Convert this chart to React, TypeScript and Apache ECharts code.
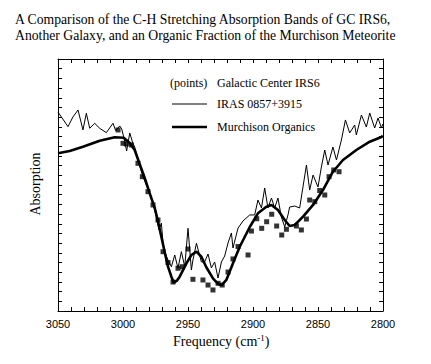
import React, { useEffect, useRef } from 'react';
import * as echarts from 'echarts';

const xTickLabels = [3050, 3000, 2950, 2900, 2850, 2800];

// IRAS 0857+3915 (thin line)
const irasFreq = [
  3050.0, 3047.4, 3042.3, 3038.5, 3034.6, 3030.8, 3028.2, 3025.6, 3021.8, 3017.9,
  3012.8, 3007.7, 3005.6, 3002.5, 3001.0, 2998.7, 2997.2, 2994.8, 2992.5, 2991.0,
  2988.5, 2984.6, 2979.5, 2975.6, 2972.3, 2970.5, 2969.2, 2967.9, 2965.4, 2962.8,
  2960.2, 2957.7, 2955.1, 2952.5, 2950.0, 2947.4, 2946.2, 2943.5, 2939.7, 2937.2,
  2934.6, 2932.0, 2929.5, 2926.9, 2924.3, 2921.8, 2919.2, 2916.6, 2915.4, 2911.5,
  2907.7, 2902.5, 2898.7, 2896.2, 2893.5, 2891.0, 2888.5, 2885.8, 2883.3, 2880.8,
  2878.2, 2875.6, 2873.1, 2871.8, 2867.9, 2864.1, 2858.9, 2856.4, 2853.8, 2850.0,
  2847.4, 2844.8, 2842.3, 2838.5, 2835.8, 2832.0, 2828.9, 2825.6, 2821.8, 2820.5,
  2816.6, 2812.8, 2810.2, 2806.4, 2803.8, 2801.2, 2800.2,
];
const irasAbs = [
  20.53, 20.02, 19.02, 20.02, 20.74, 18.68, 20.40, 18.85, 19.37, 18.85,
  18.40, 19.37, 18.60, 19.09, 18.78, 17.54, 16.51, 18.37, 17.33, 16.92,
  15.58, 13.86, 12.17, 10.42, 8.36, 9.08, 7.02, 6.12, 5.26, 4.57,
  5.78, 4.41, 6.12, 4.57, 8.53, 4.23, 5.26, 6.99, 5.06, 5.06,
  5.88, 4.44, 5.06, 3.40, 5.06, 5.67, 7.02, 8.05, 6.50, 8.56,
  9.29, 9.91, 9.91, 11.45, 10.63, 12.69, 10.63, 11.66, 10.63, 11.66,
  9.70, 8.67, 9.91, 10.73, 10.83, 10.63, 15.06, 12.48, 14.03, 12.79,
  14.86, 16.61, 15.06, 16.92, 15.58, 17.64, 19.71, 18.37, 19.19, 18.16,
  20.22, 18.98, 20.43, 18.88, 19.91, 18.88, 19.29,
];

// Murchison Organics (thick line)
const murchFreq = [
  3050.0, 3041.0, 3030.8, 3017.9, 3006.4, 2999.5, 2994.8, 2991.0, 2987.2, 2983.3,
  2979.5, 2975.6, 2973.3, 2970.5, 2968.0, 2965.4, 2962.8, 2961.0, 2958.7, 2956.4,
  2951.2, 2947.4, 2943.5, 2939.7, 2935.8, 2930.8, 2926.9, 2924.1, 2920.5, 2915.4,
  2910.2, 2902.5, 2896.2, 2889.7, 2885.8, 2880.8, 2875.6, 2871.8, 2867.9, 2861.5,
  2853.8, 2846.2, 2838.5, 2830.8, 2820.5, 2810.2, 2801.2, 2800.2,
];
const murchAbs = [
  16.27, 16.51, 16.95, 17.57, 17.92, 17.88, 17.33, 16.61, 15.17, 13.72,
  12.17, 10.63, 9.39, 7.67, 6.12, 4.57, 3.54, 2.94, 3.10, 3.54,
  4.92, 5.78, 6.12, 5.60, 4.49, 3.37, 2.79, 2.68, 3.20, 4.92,
  6.63, 8.67, 10.08, 10.76, 10.94, 10.42, 9.39, 8.77, 8.87, 9.73,
  10.94, 12.48, 14.37, 15.58, 16.61, 17.47, 17.95, 18.10,
];

// Galactic Center IRS6 (points)
const irs6Freq = [
  3003.8, 3000.0, 2997.4, 2993.5, 2988.5, 2985.1, 2980.8, 2976.9, 2973.1, 2969.2,
  2965.4, 2961.5, 2957.7, 2954.5, 2950.0, 2946.2, 2938.5, 2934.6, 2930.8, 2926.9,
  2923.7, 2919.2, 2915.4, 2911.5, 2903.8, 2901.2, 2897.1, 2893.3, 2889.5, 2885.6,
  2881.8, 2877.9, 2874.3, 2866.6, 2862.8, 2858.9, 2856.4, 2852.5, 2848.7, 2844.8,
  2841.5, 2837.9, 2833.8,
];
const irs6Abs = [
  18.68, 17.30, 17.23, 17.13, 15.24, 13.86, 12.31, 10.94, 9.39, 6.12,
  5.00, 2.99, 4.41, 4.57, 6.40, 3.27, 3.20, 2.68, 2.17, 2.86,
  2.68, 4.02, 5.37, 6.65, 5.78, 8.25, 9.52, 8.53, 9.21, 9.98,
  8.77, 7.84, 8.43, 8.77, 8.36, 9.49, 11.45, 11.28, 12.43, 11.97,
  13.86, 14.55, 14.37,
];

const zip = (a: number[], b: number[]) => a.map((v, i) => [v, b[i]]);

export default function App() {
  const ref = useRef<HTMLDivElement>(null);
  useEffect(() => {
    const chart = echarts.init(ref.current!, null, { renderer: 'svg' });
    const serif = "'Liberation Serif', 'DejaVu Serif', serif";
    const sans = "'Liberation Sans', Arial, sans-serif";
    const black = '#000';
    const xBase = {
      type: 'value',
      min: 2800,
      max: 3050,
      interval: 50,
      inverse: true,
      axisLine: { show: true, onZero: false, lineStyle: { color: black, width: 1 } },
      axisTick: { show: true, inside: true, length: 4, lineStyle: { color: black } },
      minorTick: { show: true, splitNumber: 5, length: 4, lineStyle: { color: black } },
      splitLine: { show: false },
      minorSplitLine: { show: false },
    };
    const yBase = {
      type: 'value',
      min: 0,
      max: 26,
      interval: 1,
      axisLine: { show: true, onZero: false, lineStyle: { color: black, width: 1 } },
      axisTick: { show: true, inside: true, length: 4, lineStyle: { color: black } },
      axisLabel: { show: false },
      splitLine: { show: false },
    };
    chart.setOption({
      animation: false,
      backgroundColor: '#fff',
      grid: { left: 58, top: 59, width: 325, height: 252 },
      xAxis: [
        {
          ...xBase,
          position: 'bottom',
          axisLabel: {
            color: black,
            fontFamily: sans,
            fontSize: 11,
            margin: 7,
            formatter: (v: number) => (xTickLabels.includes(v) ? String(v) : ''),
          },
        },
        { ...xBase, position: 'top', axisLabel: { show: false } },
      ],
      yAxis: [
        { ...yBase, position: 'left' },
        { ...yBase, position: 'right' },
      ],
      graphic: [
        {
          type: 'text', x: 15, y: 11,
          style: {
            text: 'A Comparison of the C-H Stretching Absorption Bands of GC IRS6,\nAnother Galaxy, and an Organic Fraction of the Murchison Meteorite',
            fontFamily: serif, fontSize: 13.7, lineHeight: 16, fill: black, verticalAlign: 'top',
          },
        },
        {
          type: 'text', left: 173, top: 333,
          style: {
            text: '{a|Frequency (cm}{s|-1}{a|)}',
            rich: {
              a: { fontFamily: serif, fontSize: 14, fill: black },
              s: { fontFamily: serif, fontSize: 9, fill: black, padding: [0, 0, 7, 0] },
            },
          },
        },
        {
          type: 'text', x: 35, y: 184, rotation: Math.PI / 2,
          style: { text: 'Absorption', fontFamily: serif, fontSize: 14, fill: black, align: 'center', verticalAlign: 'middle' },
        },
        { type: 'text', x: 170, y: 83, style: { text: '(points)', fontFamily: serif, fontSize: 12, fill: black, verticalAlign: 'middle' } },
        { type: 'text', x: 217, y: 83, style: { text: 'Galactic Center IRS6', fontFamily: serif, fontSize: 12, fill: black, verticalAlign: 'middle' } },
        { type: 'line', shape: { x1: 172, y1: 104, x2: 207, y2: 104 }, style: { stroke: black, lineWidth: 1 } },
        { type: 'text', x: 217, y: 104, style: { text: 'IRAS 0857+3915', fontFamily: serif, fontSize: 12, fill: black, verticalAlign: 'middle' } },
        { type: 'line', shape: { x1: 172, y1: 127, x2: 207, y2: 127 }, style: { stroke: black, lineWidth: 2.6 } },
        { type: 'text', x: 217, y: 127, style: { text: 'Murchison Organics', fontFamily: serif, fontSize: 12, fill: black, verticalAlign: 'middle' } },
      ],
      series: [
        {
          name: 'IRAS 0857+3915',
          type: 'line',
          data: zip(irasFreq, irasAbs),
          showSymbol: false,
          lineStyle: { color: black, width: 1 },
          z: 2,
        },
        {
          name: 'Murchison Organics',
          type: 'line',
          data: zip(murchFreq, murchAbs),
          showSymbol: false,
          lineStyle: { color: black, width: 2.6 },
          z: 3,
        },
        {
          name: 'Galactic Center IRS6',
          type: 'scatter',
          data: zip(irs6Freq, irs6Abs),
          symbol: 'rect',
          symbolSize: 5,
          itemStyle: { color: black },
          z: 4,
        },
      ],
    });
    return () => chart.dispose();
  }, []);
  return <div ref={ref} style={{ position: 'fixed', left: 0, top: 0, width: 431, height: 364 }} />;
}
